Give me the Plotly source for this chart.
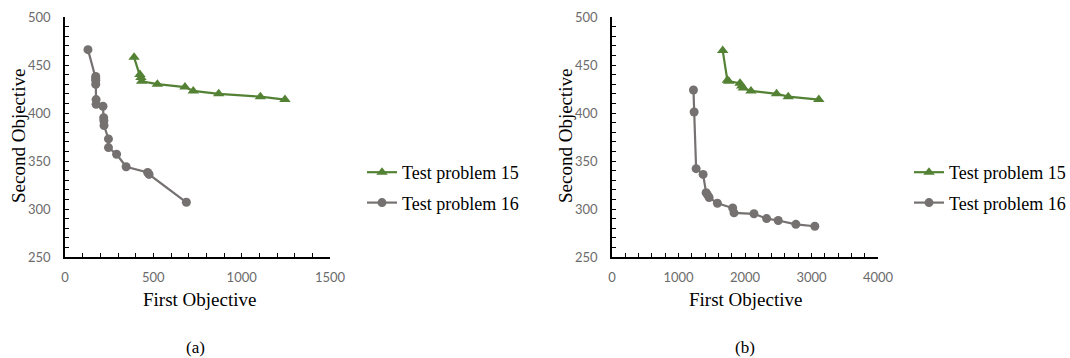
import plotly.graph_objects as go

# ---------------- data ----------------
# Panel (a)
a_p15_x = [391, 424, 430, 434, 523, 679, 726, 870, 1106, 1245]
a_p15_y = [458, 440, 437, 433, 430, 427, 423, 420, 417, 414]
a_p16_x = [130, 174, 174, 174, 174, 176, 176, 215, 219, 220, 221, 246, 246, 292, 346, 468, 476, 687]
a_p16_y = [466, 438, 436, 434, 430, 414, 409, 407, 395, 392, 387, 373, 364, 357, 344, 338, 336, 307]

# Panel (b)
b_p15_x = [1665, 1735, 1755, 1925, 1950, 1975, 2090, 2475, 2650, 3110]
b_p15_y = [465, 434, 433, 431, 428, 426, 423, 420, 417, 414]
b_p16_x = [1225, 1235, 1265, 1370, 1415, 1435, 1460, 1585, 1815, 1835, 2135, 2325, 2500, 2765, 3050]
b_p16_y = [424, 401, 342, 336, 317, 315, 312, 306, 301, 296, 295, 290, 288, 284, 282]

series_names = ["Test problem 15", "Test problem 16"]
panel_labels = ["(a)", "(b)"]
x_title = "First Objective"
y_title = "Second Objective"

GREEN = "#548235"
GRAY = "#767171"
SERIF = "Liberation Serif, Times New Roman, serif"
SANS = "Lato, Carlito, Calibri, sans-serif"

W, H = 1070, 358

def px_x(p):
    return p / W

def px_y(p):
    return (H - p) / H

fig = go.Figure()

panels = [
    (a_p15_x, a_p15_y, a_p16_x, a_p16_y, "x", "y", "legend"),
    (b_p15_x, b_p15_y, b_p16_x, b_p16_y, "x2", "y2", "legend2"),
]
for (x15, y15, x16, y16, xa, ya, lg) in panels:
    fig.add_trace(go.Scatter(
        x=x15, y=y15, mode="lines+markers", name=series_names[0],
        xaxis=xa, yaxis=ya, legend=lg, legendgroup=lg + "15",
        line=dict(color=GREEN, width=2.2),
        marker=dict(symbol="triangle-up", size=10, color=GREEN),
    ))
    fig.add_trace(go.Scatter(
        x=x16, y=y16, mode="lines+markers", name=series_names[1],
        xaxis=xa, yaxis=ya, legend=lg, legendgroup=lg + "16",
        line=dict(color=GRAY, width=2.2),
        marker=dict(symbol="circle", size=9, color=GRAY),
    ))

tick_font = dict(family=SANS, size=13, color="#6b6b6b")
title_font = dict(family=SERIF, size=19, color="#000000")

def xaxis_cfg(domain, rng, dtick, minor):
    return dict(
        domain=domain, range=rng, dtick=dtick, tick0=0, automargin=False,
        showline=True, linecolor="#000000", linewidth=1.5,
        ticks="inside", ticklen=4, tickcolor="#000000", tickwidth=1.2,
        minor=dict(dtick=minor, ticks="inside", ticklen=4, tickcolor="#000000", tickwidth=1.2),
        showgrid=False, zeroline=False, tickfont=tick_font,
        ticklabelstandoff=8,
        fixedrange=True,
    )

def yaxis_cfg(domain, anchor):
    return dict(
        domain=domain, range=[250, 500], dtick=50, tick0=0, anchor=anchor, automargin=False,
        showline=True, linecolor="#000000", linewidth=1.5,
        ticks="inside", ticklen=4, tickcolor="#000000", tickwidth=1.2,
        minor=dict(dtick=10, ticks="inside", ticklen=4, tickcolor="#000000", tickwidth=1.2),
        showgrid=False, zeroline=False, tickfont=tick_font,
        ticklabelstandoff=10,
        fixedrange=True,
    )

ydom = [px_y(257), px_y(17)]
fig.update_layout(
    width=W, height=H,
    margin=dict(l=0, r=0, t=0, b=0, autoexpand=False),
    paper_bgcolor="white", plot_bgcolor="white",
    xaxis=xaxis_cfg([px_x(65), px_x(330)], [0, 1500], 500, 100) | dict(anchor="y"),
    yaxis=yaxis_cfg(ydom, "x"),
    xaxis2=xaxis_cfg([px_x(612), px_x(878)], [0, 4000], 1000, 200) | dict(anchor="y2"),
    yaxis2=yaxis_cfg(ydom, "x2"),
    legend=dict(
        x=px_x(362), y=px_y(187.5), xanchor="left", yanchor="middle",
        font=dict(family=SERIF, size=18, color="#000000"),
        traceorder="grouped", tracegroupgap=4, itemwidth=30,
        bgcolor="rgba(0,0,0,0)",
    ),
    legend2=dict(
        x=px_x(909), y=px_y(187.5), xanchor="left", yanchor="middle",
        font=dict(family=SERIF, size=18, color="#000000"),
        traceorder="grouped", tracegroupgap=4, itemwidth=30,
        bgcolor="rgba(0,0,0,0)",
    ),
    showlegend=True,
)

# axis titles
for cx in [199, 745]:
    fig.add_annotation(
        text=x_title, x=px_x(cx), y=px_y(299), xref="paper", yref="paper",
        showarrow=False, xanchor="center", yanchor="middle", font=title_font,
    )
for cx in [18, 565]:
    fig.add_annotation(
        text=y_title, x=px_x(cx), y=px_y(136), xref="paper", yref="paper",
        showarrow=False, xanchor="center", yanchor="middle", textangle=-90, font=title_font,
    )

for label, cx in zip(panel_labels, [195, 745]):
    fig.add_annotation(
        text=label, x=px_x(cx), y=px_y(347), xref="paper", yref="paper",
        showarrow=False, xanchor="center", yanchor="middle",
        font=dict(family=SERIF, size=17, color="#000000"),
    )

fig.write_html("out.html")
